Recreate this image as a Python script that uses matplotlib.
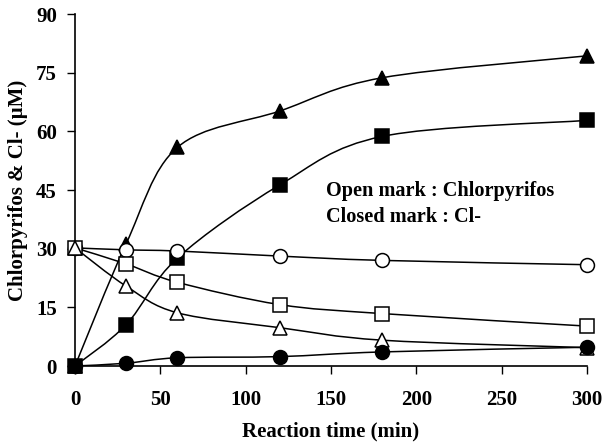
import numpy as np
import matplotlib
matplotlib.use("Agg")
import matplotlib.pyplot as plt
from matplotlib.path import Path
from matplotlib.patches import PathPatch

time = [0, 30, 60, 120, 180, 300]
cl_triangle = [0.0, 31.3, 55.9, 65.2, 73.7, 79.3]
cl_square = [0.0, 10.6, 27.6, 46.3, 58.7, 62.8]
cl_circle = [0.0, 0.7, 2.1, 2.4, 3.6, 4.8]
cp_circle = [30.2, 29.7, 29.4, 28.1, 27.0, 25.9]
cp_square = [30.2, 26.1, 21.4, 15.7, 13.4, 10.2]
cp_triangle = [30.2, 20.4, 13.6, 9.8, 6.6, 4.7]

x_ticks = [0, 50, 100, 150, 200, 250, 300]
y_ticks = [0, 15, 30, 45, 60, 75, 90]

plt.rcParams['font.family'] = ['Liberation Serif', 'DejaVu Serif']
plt.rcParams['font.weight'] = 'bold'

fig = plt.figure(figsize=(6.04, 4.46), dpi=100)
ax = fig.add_axes([75/604, 1-366/446, 512/604, 352/446])


def smooth_path(xs, ys):
    pts = np.column_stack([xs, ys]).astype(float)
    n = len(pts)
    verts = [pts[0]]
    codes = [Path.MOVETO]
    for i in range(n - 1):
        p0 = pts[i - 1] if i > 0 else pts[i]
        p1 = pts[i]
        p2 = pts[i + 1]
        p3 = pts[i + 2] if i + 2 < n else pts[i + 1]
        c1 = p1 + (p2 - p0) / 6.0
        c2 = p2 - (p3 - p1) / 6.0
        verts += [c1, c2, p2]
        codes += [Path.CURVE4] * 3
    return Path(verts, codes)


series = [
    (cl_triangle, '^', 'black'),
    (cl_square, 's', 'black'),
    (cp_circle, 'o', 'white'),
    (cp_square, 's', 'white'),
    (cp_triangle, '^', 'white'),
    (cl_circle, 'o', 'black'),
]

for ys, mk, fc in series:
    ax.add_patch(PathPatch(smooth_path(time, ys), fill=False, edgecolor='black',
                           linewidth=1.1, zorder=2))
for ys, mk, fc in series:
    ax.plot(time, ys, linestyle='none', marker=mk, markersize=10,
            markerfacecolor=fc, markeredgecolor='black', markeredgewidth=1.1,
            zorder=3, clip_on=False)

ax.set_xlim(0, 300)
ax.set_ylim(0, 90)
ax.set_xticks(x_ticks)
ax.set_yticks(y_ticks)
ax.tick_params(direction='out', length=6, width=1, labelsize=15)
ax.tick_params(axis='x', pad=11.5)
ax.tick_params(axis='y', pad=7)
for sp in ['top', 'right']:
    ax.spines[sp].set_visible(False)
for sp in ['left', 'bottom']:
    ax.spines[sp].set_linewidth(1.2)

ax.set_xlabel('Reaction time (min)', fontsize=15, fontweight='bold', labelpad=8)
ax.set_ylabel('Chlorpyrifos & Cl- (µM)', fontsize=15, fontweight='bold', labelpad=6)

ax.text(147, 44.7, 'Open mark : Chlorpyrifos', fontsize=14.6, fontweight='bold',
        va='center', ha='left')
ax.text(147, 38.1, 'Closed mark : Cl-', fontsize=14.6, fontweight='bold',
        va='center', ha='left')

fig.savefig('out.png', dpi=100)
